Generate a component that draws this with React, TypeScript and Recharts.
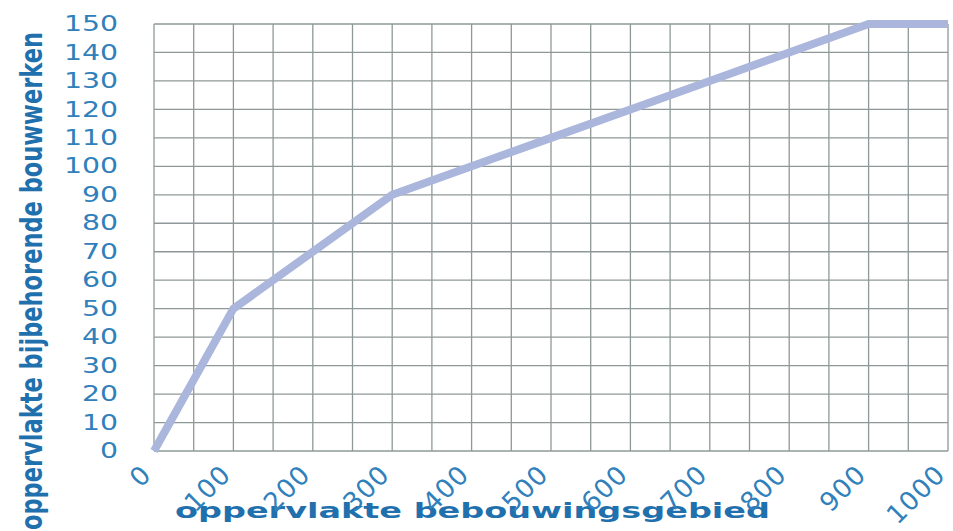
import { LineChart, Line, XAxis, YAxis, CartesianGrid, Label } from "recharts";

const areaBebouwing = [0, 100, 200, 300, 400, 500, 600, 700, 800, 900, 1000];
const areaBouwwerken = [0, 50, 70, 90, 100, 110, 120, 130, 140, 150, 150];
const xGridTicks = [
  0, 50, 100, 150, 200, 250, 300, 350, 400, 450, 500, 550, 600, 650, 700, 750,
  800, 850, 900, 950, 1000,
];
const yTicks = [0, 10, 20, 30, 40, 50, 60, 70, 80, 90, 100, 110, 120, 130, 140, 150];

const data = areaBebouwing.map((x, i) => ({ x, y: areaBouwwerken[i] }));

const tickColor = "#2f80bb";
const titleColor = "#1f70ad";
const font = "DejaVu Sans, Verdana, sans-serif";

// only every 100 gets a label, the 50s are grid lines only
function XTick(props: any) {
  const { x, y, payload } = props;
  if (payload.value % 100 !== 0) return null;
  return (
    <text
      transform={`translate(${x - 1},${y + 17}) rotate(-45)`}
      textAnchor="end"
      fill={tickColor}
      fontFamily={font}
      fontSize={26}
      letterSpacing={1}
    >
      {payload.value}
    </text>
  );
}

function YTick(props: any) {
  const { y, payload } = props;
  return (
    <text
      transform={`translate(118,${y}) scale(1.35,1)`}
      textAnchor="end"
      dominantBaseline="central"
      fill={tickColor}
      fontFamily={font}
      fontSize={21}
    >
      {payload.value}
    </text>
  );
}

export default function App() {
  return (
    <div style={{ position: "absolute", left: 0, top: 0, background: "#fff" }}>
      <LineChart
        width={953}
        height={531}
        data={data}
        margin={{ top: 24, right: 5, bottom: 0, left: 0 }}
      >
        <CartesianGrid stroke="#8f9898" strokeWidth={1.3} />
        <XAxis
          dataKey="x"
          type="number"
          domain={[0, 1000]}
          ticks={xGridTicks}
          interval={0}
          height={80}
          axisLine={false}
          tickLine={false}
          tick={<XTick />}
        >
          <Label
            content={() => (
              <text
                x={175}
                y={518}
                textLength={595}
                lengthAdjust="spacingAndGlyphs"
                fill={titleColor}
                fontFamily={font}
                fontWeight="bold"
                fontSize={21}
              >
                oppervlakte bebouwingsgebied
              </text>
            )}
          />
        </XAxis>
        <YAxis
          type="number"
          domain={[0, 150]}
          ticks={yTicks}
          interval={0}
          width={154}
          axisLine={false}
          tickLine={false}
          tick={<YTick />}
        >
          <Label
            content={() => (
              <text
                transform="translate(42,530) rotate(-90)"
                textLength={498}
                lengthAdjust="spacingAndGlyphs"
                fill={titleColor}
                fontFamily={font}
                fontWeight="bold"
                fontSize={30}
              >
                oppervlakte bijbehorende bouwwerken
              </text>
            )}
          />
        </YAxis>
        <Line
          dataKey="y"
          stroke="#abb6dd"
          strokeWidth={8}
          dot={false}
          isAnimationActive={false}
          type="linear"
        />
      </LineChart>
    </div>
  );
}
